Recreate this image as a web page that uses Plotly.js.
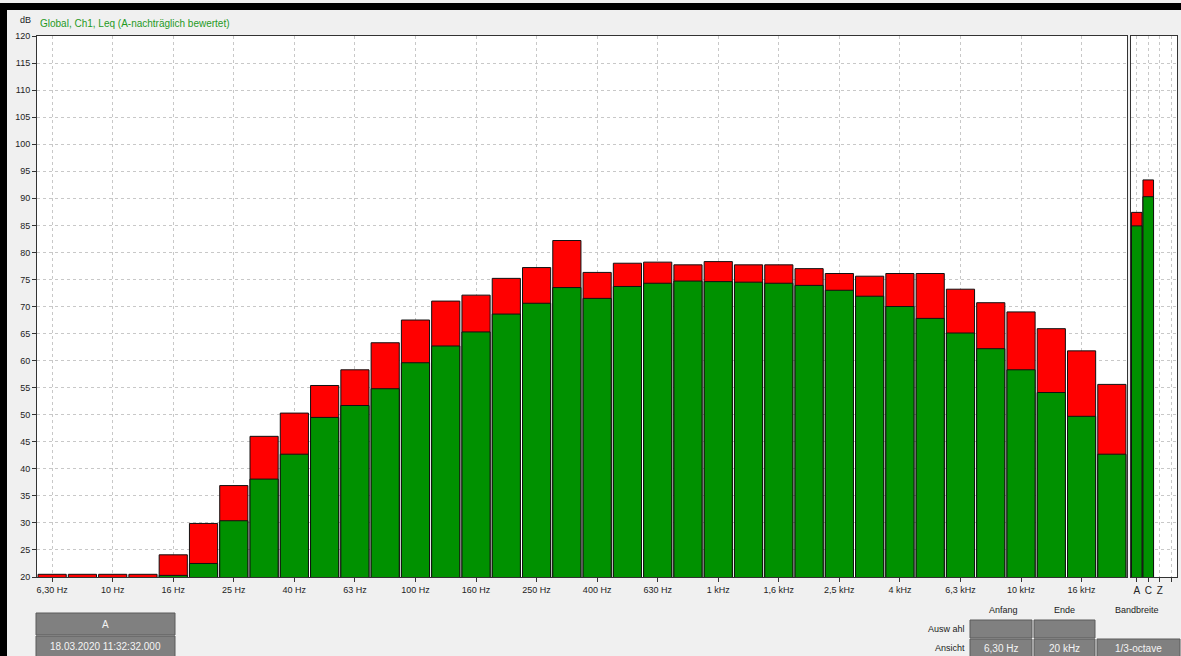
<!DOCTYPE html>
<html>
<head>
<meta charset="utf-8">
<script src="https://cdn.plot.ly/plotly-3.0.1.min.js"></script>
<style>
  html, body { margin: 0; padding: 0; background: #f0f0f0; }
  #chart { width: 1181px; height: 656px; }
</style>
</head>
<body>
<div id="chart"></div>
<script>
// ---- data ----
const bands = ['6,30 Hz','8 Hz','10 Hz','12,5 Hz','16 Hz','20 Hz','25 Hz','31,5 Hz','40 Hz','50 Hz',
  '63 Hz','80 Hz','100 Hz','125 Hz','160 Hz','200 Hz','250 Hz','315 Hz','400 Hz','500 Hz',
  '630 Hz','800 Hz','1 kHz','1,25 kHz','1,6 kHz','2 kHz','2,5 kHz','3,15 kHz','4 kHz','5 kHz',
  '6,3 kHz','8 kHz','10 kHz','12,5 kHz','16 kHz','20 kHz'];
const levelLin = [20.5,20.5,20.5,20.5,24.1,29.9,36.9,46.0,50.3,55.4,
  58.3,63.3,67.5,71.0,72.1,75.2,77.2,82.2,76.3,78.0,
  78.2,77.7,78.3,77.7,77.7,77.0,76.1,75.6,76.1,76.1,
  73.2,70.7,69.0,65.9,61.8,55.6];
const levelA = [19.0,19.0,19.0,19.0,20.3,22.5,30.4,38.1,42.7,49.5,
  51.7,54.8,59.6,62.7,65.3,68.6,70.6,73.5,71.5,73.7,
  74.3,74.7,74.6,74.5,74.3,73.9,73.0,71.9,70.0,67.8,
  65.1,62.2,58.3,54.1,49.7,42.7];
const tickLabels = ['6,30 Hz','10 Hz','16 Hz','25 Hz','40 Hz','63 Hz','100 Hz','160 Hz','250 Hz',
  '400 Hz','630 Hz','1 kHz','1,6 kHz','2,5 kHz','4 kHz','6,3 kHz','10 kHz','16 kHz'];
const sumCats = ['A','C','Z',''];
const sumLin = [87.4, 93.4];
const sumA = [84.9, 90.3];
const yTicks = [20,25,30,35,40,45,50,55,60,65,70,75,80,85,90,95,100,105,110,115,120];

// ---- layout helpers (pixel -> paper) ----
const W = 1181, H = 656, ML = 37, MR = 4, MT = 36, MB = 79;
const PW = W - ML - MR, PH = H - MT - MB;
const px = v => (v - ML) / PW;
const py = v => (H - MB - v) / PH;

const FONT = '"Liberation Sans", Arial, sans-serif';
const RED = '#ff0000', GREEN = '#009100';

const traces = [
  { type: 'bar', x: bands, y: levelLin, xaxis: 'x', yaxis: 'y',
    marker: { color: RED, opacity: 1, line: { color: '#111', width: 1 } }, hoverinfo: 'skip' },
  { type: 'bar', x: bands, y: levelA, xaxis: 'x', yaxis: 'y',
    marker: { color: GREEN, opacity: 1, line: { color: '#111', width: 1 } }, hoverinfo: 'skip' },
  { type: 'bar', x: sumCats.slice(0, sumLin.length).map((c, i) => i), y: sumLin, xaxis: 'x2', yaxis: 'y2',
    width: 0.92, marker: { color: RED, opacity: 1, line: { color: '#111', width: 1 } }, hoverinfo: 'skip' },
  { type: 'bar', x: sumCats.slice(0, sumA.length).map((c, i) => i), y: sumA, xaxis: 'x2', yaxis: 'y2',
    width: 0.92, marker: { color: GREEN, opacity: 1, line: { color: '#111', width: 1 } }, hoverinfo: 'skip' }
];

const gridStyle = { showgrid: true, gridcolor: '#c8c8c8', griddash: 'dot', gridwidth: 1 };
const axisLine = { showline: true, mirror: true, linecolor: '#333', linewidth: 1, zeroline: false };

const shapes = [];
const annotations = [];
function box(x0, y0, x1, y1, text) {
  shapes.push({ type: 'rect', xref: 'paper', yref: 'paper', x0: px(x0), x1: px(x1), y0: py(y1), y1: py(y0),
    fillcolor: '#808080', line: { color: '#5a5a5a', width: 1 }, layer: 'above' });
  if (text) annotations.push({ xref: 'paper', yref: 'paper', x: px((x0 + x1) / 2), y: py((y0 + y1) / 2),
    text: text, showarrow: false, xanchor: 'center', yanchor: 'middle',
    font: { family: FONT, size: 10, color: '#f4f4f4' } });
}
function label(x, y, text, anchor, color, size) {
  annotations.push({ xref: 'paper', yref: 'paper', x: px(x), y: py(y), text: text, showarrow: false,
    xanchor: anchor || 'center', yanchor: 'middle', font: { family: FONT, size: size || 9, color: color || '#222' } });
}

// frame decorations
shapes.push({ type: 'rect', xref: 'paper', yref: 'paper', x0: px(0), x1: px(W), y0: py(10), y1: py(3),
  fillcolor: '#000', line: { width: 0 }, layer: 'above' });
shapes.push({ type: 'rect', xref: 'paper', yref: 'paper', x0: px(0), x1: px(7), y0: py(H), y1: py(3),
  fillcolor: '#000', line: { width: 0 }, layer: 'above' });

// bottom widgets
box(36, 613, 175, 635, 'A');
box(36, 636, 175, 657, '18.03.2020 11:32:32.000');
label(1003, 610, 'Anfang');
label(1064, 610, 'Ende');
label(1137, 610, 'Bandbreite');
label(967, 629, 'Ausw ahl', 'right');
label(967, 648, 'Ansicht', 'right');
box(970, 620, 1032, 638, '');
box(1034, 620, 1095, 638, '');
box(970, 639, 1032, 657, '6,30 Hz');
box(1034, 639, 1095, 657, '20 kHz');
box(1097, 639, 1180, 657, '1/3-octave');

// dB unit label
label(25, 20, 'dB', 'center', '#222', 9);

const layout = {
  width: W, height: H,
  margin: { l: ML, r: MR, t: MT, b: MB, pad: 0 },
  paper_bgcolor: '#f0f0f0', plot_bgcolor: '#ffffff',
  showlegend: false, barmode: 'overlay', bargap: 0.07,
  font: { family: FONT, size: 9, color: '#222' },
  title: { text: 'Global, Ch1, Leq (A-nachträglich bewertet)', x: 40 / W, xanchor: 'left',
    y: 1 - 23 / H, yanchor: 'middle', font: { family: FONT, size: 10, color: '#1f9a1f' } },
  xaxis: Object.assign({ domain: [0, px(1127)], type: 'category', categoryorder: 'array', categoryarray: bands,
    range: [-0.5, bands.length - 0.5], tickmode: 'array', tickvals: tickLabels, ticktext: tickLabels,
    ticks: 'outside', ticklen: 4, tickcolor: '#333', tickfont: { family: FONT, size: 9, color: '#222' },
    fixedrange: true }, gridStyle, axisLine),
  yaxis: Object.assign({ domain: [0, 1], range: [20, 120], tickmode: 'array', tickvals: yTicks,
    ticks: 'outside', ticklen: 4, tickcolor: '#333', tickfont: { family: FONT, size: 9, color: '#222' },
    fixedrange: true }, gridStyle, axisLine),
  xaxis2: Object.assign({ domain: [px(1131), px(1177)], anchor: 'y2', range: [-0.5, 3.5],
    tickmode: 'array', tickvals: [0, 1, 2, 3], ticktext: sumCats,
    ticks: 'outside', ticklen: 4, tickcolor: '#333', tickfont: { family: FONT, size: 10, color: '#222' },
    fixedrange: true }, gridStyle, axisLine),
  yaxis2: Object.assign({ domain: [0, 1], anchor: 'x2', range: [20, 120], tickmode: 'array', tickvals: yTicks,
    showticklabels: false, ticks: '', fixedrange: true }, gridStyle, axisLine),
  shapes: shapes,
  annotations: annotations
};

Plotly.newPlot('chart', traces, layout, { staticPlot: true, displayModeBar: false });
</script>
</body>
</html>
